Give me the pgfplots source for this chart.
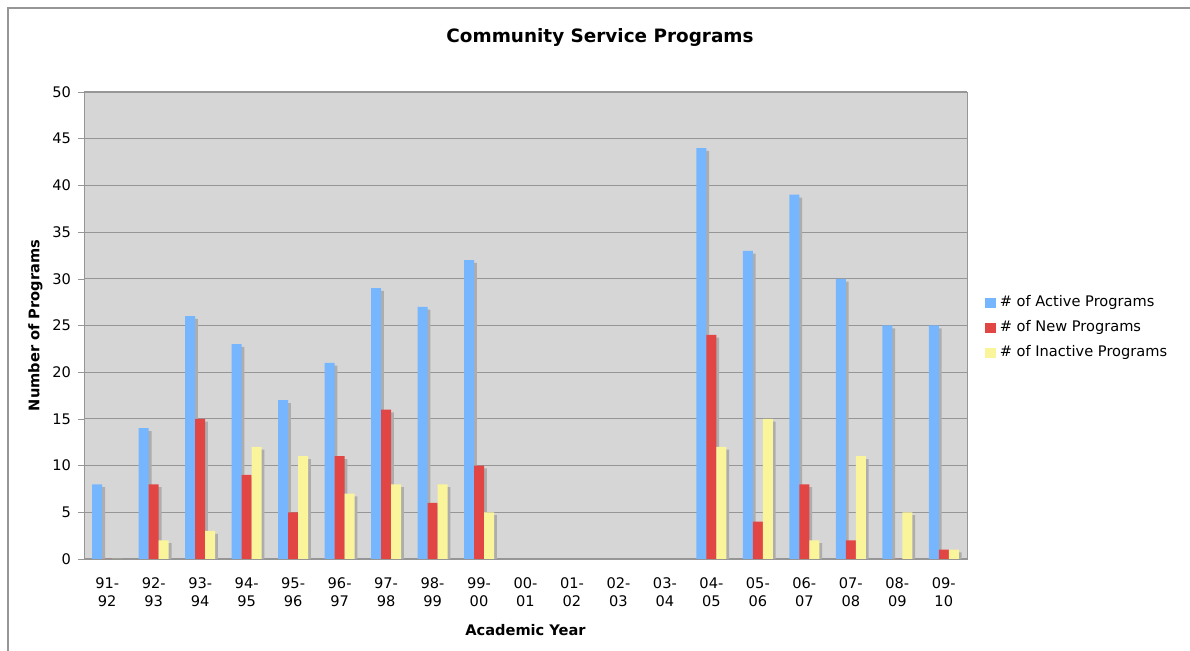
\documentclass[border=0pt]{standalone}
\usepackage{pgfplots}
\pgfplotsset{compat=1.18}
\usepackage{fontspec}
\setmainfont{DejaVu Sans}
\usetikzlibrary{shadows}
\makeatletter
\tikzset{noshadow/.code={\let\tikz@preactions\pgfutil@empty\let\tikz@postactions\pgfutil@empty}}
\makeatother
\definecolor{cblue}{RGB}{118,182,255}
\definecolor{cred}{RGB}{226,70,68}
\definecolor{cyel}{RGB}{250,245,155}
\definecolor{cbg}{RGB}{214,214,214}
\definecolor{cgrid}{RGB}{150,150,150}
\pgfplotstableread{
x act new ina
0 8 0 0
1 14 8 2
2 26 15 3
3 23 9 12
4 17 5 11
5 21 11 7
6 29 16 8
7 27 6 8
8 32 10 5
13 44 24 12
14 33 4 15
15 39 8 2
16 30 2 11
17 25 0 5
18 25 1 1
}\datatable
\begin{document}
\begin{tikzpicture}
\useasboundingbox (0pt,0pt) rectangle (595pt,325.5pt);
\draw[cgrid, line width=0.6pt] (4pt,0pt) -- (4pt,321.5pt) -- (595pt,321.5pt);
\node[font=\bfseries\fontsize{9.2}{11}\selectfont] at (300pt,306.5pt) {Community Service Programs};
\begin{axis}[
  at={(42pt,46pt)}, anchor=south west,
  scale only axis, width=441.5pt, height=233.5pt,
  xmin=-0.5, xmax=18.5, ymin=0, ymax=50,
  ybar=0pt, bar width=5pt,
  axis background/.style={fill=cbg},
  axis line style={cgrid},
  ytick={0,5,...,50},
  ymajorgrids, grid style={cgrid, line width=0.5pt},
  xtick={0,...,18},
  xticklabels={91-\\92,92-\\93,93-\\94,94-\\95,95-\\96,96-\\97,97-\\98,98-\\99,99-\\00,00-\\01,01-\\02,02-\\03,03-\\04,04-\\05,05-\\06,06-\\07,07-\\08,08-\\09,09-\\10},
  xticklabel style={align=center, font=\fontsize{7.3}{9}\selectfont, yshift=-3pt},
  x tick style={draw=none},
  extra x ticks={-0.5,0.5,...,18.5},
  extra x tick labels={},
  extra x tick style={tick style={draw=cgrid}, major tick length=3pt, tick pos=left, tick align=outside, grid=none},
  yticklabel style={font=\fontsize{7.3}{9}\selectfont},
  y tick style={cgrid},
  tick align=outside, major tick length=3pt,
  tick pos=left,
  /pgf/number format/assume math mode=true,
  xlabel={\bfseries Academic Year},
  ylabel={\bfseries Number of Programs},
  xlabel style={font=\fontsize{7.3}{9}\selectfont, yshift=4pt},
  ylabel style={font=\fontsize{7.3}{9}\selectfont, yshift=-2pt},
  legend style={draw=none, fill=none, at={(axis description cs:1,0.495)}, anchor=west, xshift=6pt,
    font=\fontsize{7.3}{9}\selectfont, row sep=1.5pt,
    legend cell align=left},
  every axis plot/.append style={draw=none, drop shadow={shadow xshift=1.4pt, shadow yshift=-1.4pt, fill=black!32, opacity=1}},
]
\addplot[fill=cblue, legend image code/.code={\fill[noshadow, cblue] (0pt,-2.6pt) rectangle (5.2pt,2.6pt);}] table[x=x,y=act] {\datatable};
\addplot[fill=cred, legend image code/.code={\fill[noshadow, cred] (0pt,-2.6pt) rectangle (5.2pt,2.6pt);}] table[x=x,y=new] {\datatable};
\addplot[fill=cyel, legend image code/.code={\fill[noshadow, cyel] (0pt,-2.6pt) rectangle (5.2pt,2.6pt);}] table[x=x,y=ina] {\datatable};
\legend{\# of Active Programs,\# of New Programs,\# of Inactive Programs}
\end{axis}
\end{tikzpicture}
\end{document}
